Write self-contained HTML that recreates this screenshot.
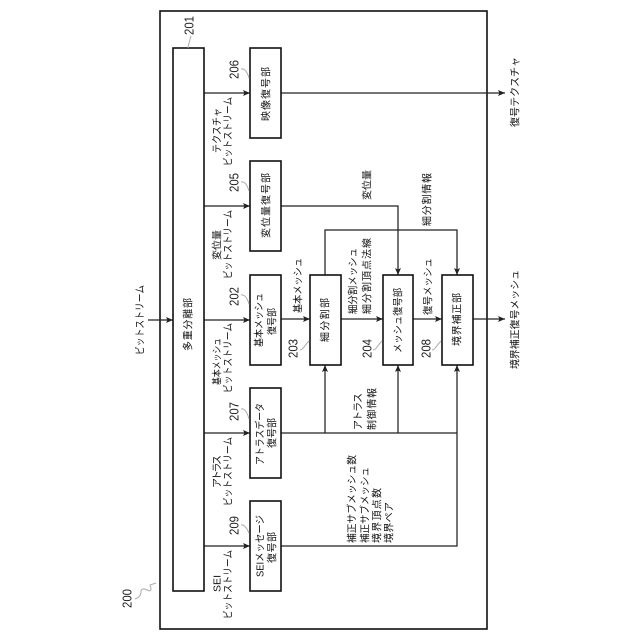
<!DOCTYPE html>
<html><head><meta charset="utf-8"><style>
html,body{margin:0;padding:0;background:#fff}
svg{display:block}
text{font-family:"Liberation Sans","Noto Sans CJK JP",sans-serif;font-size:10px;fill:#111;dominant-baseline:central}
.n{font-size:13px;fill:#222}
.b{fill:#fff;stroke:#111;stroke-width:1.6}
.l{fill:none;stroke:#222;stroke-width:1.25}
.s{fill:none;stroke:#aaa;stroke-width:1}
</style></head><body>
<svg xmlns="http://www.w3.org/2000/svg" width="640" height="640" viewBox="0 0 640 640">
<defs><marker id="a" markerUnits="userSpaceOnUse" markerWidth="8" markerHeight="8" refX="7" refY="4" orient="auto"><path d="M0 1 L7 4 L0 7 L1.5 4Z" fill="#222"/></marker></defs>
<rect x="160" y="11" width="327" height="618" fill="#fff" stroke="#111" stroke-width="1.6"/>
<g class="l">
<path class="l" d="M148 320H173" marker-end="url(#a)"/>
<path class="l" d="M204 93H250" marker-end="url(#a)"/>
<path class="l" d="M204 206H250" marker-end="url(#a)"/>
<path class="l" d="M204 320H250" marker-end="url(#a)"/>
<path class="l" d="M204 433H250" marker-end="url(#a)"/>
<path class="l" d="M204 546H250" marker-end="url(#a)"/>
<path class="l" d="M281 93H505" marker-end="url(#a)"/>
<path class="l" d="M281 206H398V275" marker-end="url(#a)"/>
<path class="l" d="M281 319H310" marker-end="url(#a)"/>
<path class="l" d="M341 319H383" marker-end="url(#a)"/>
<path class="l" d="M413 319H442" marker-end="url(#a)"/>
<path class="l" d="M473 319H505" marker-end="url(#a)"/>
<path class="l" d="M325 275V230H457V275" marker-end="url(#a)"/>
<path class="l" d="M281 433H457"/>
<path class="l" d="M325 433V365" marker-end="url(#a)"/>
<path class="l" d="M398 433V365" marker-end="url(#a)"/>
<path class="l" d="M281 546H457V365" marker-end="url(#a)"/>
</g>
<rect class="b" x="173" y="48" width="31" height="543"/>
<rect class="b" x="250" y="48" width="31" height="90"/>
<rect class="b" x="250" y="161" width="31" height="90"/>
<rect class="b" x="250" y="275" width="31" height="90"/>
<rect class="b" x="250" y="388" width="31" height="90"/>
<rect class="b" x="250" y="501" width="31" height="90"/>
<rect class="b" x="310" y="275" width="31" height="90"/>
<rect class="b" x="383" y="275" width="30" height="90"/>
<rect class="b" x="442" y="275" width="31" height="90"/>
<g class="s">
<path class="s" d="M188 48Q189 42 191 36"/>
<path class="s" d="M249 78Q246 68 241 69"/>
<path class="s" d="M249 191Q246 181 241 182"/>
<path class="s" d="M249 304Q246 294 241 295"/>
<path class="s" d="M249 419Q246 408 241 409"/>
<path class="s" d="M249 533Q245 524 241 525"/>
<path class="s" d="M309 341Q306 344 304 347T300 350"/>
<path class="s" d="M382 341Q379 344 377 347T373 350"/>
<path class="s" d="M441 341Q438 344 436 347T432 350"/>
<path class="s" d="M135 599Q141 597 141 592T147 590T150 585L156 583" stroke-width="1.2"/>
</g>
<text class="n" transform="translate(189,35) rotate(-90)" textLength="19" lengthAdjust="spacingAndGlyphs">201</text>
<text class="n" transform="translate(234,79) rotate(-90)" textLength="19" lengthAdjust="spacingAndGlyphs">206</text>
<text class="n" transform="translate(234,192) rotate(-90)" textLength="19" lengthAdjust="spacingAndGlyphs">205</text>
<text class="n" transform="translate(234,306) rotate(-90)" textLength="19" lengthAdjust="spacingAndGlyphs">202</text>
<text class="n" transform="translate(234,421) rotate(-90)" textLength="19" lengthAdjust="spacingAndGlyphs">207</text>
<text class="n" transform="translate(234,535) rotate(-90)" textLength="19" lengthAdjust="spacingAndGlyphs">209</text>
<text class="n" transform="translate(293,358) rotate(-90)" textLength="19" lengthAdjust="spacingAndGlyphs">203</text>
<text class="n" transform="translate(367,358) rotate(-90)" textLength="19" lengthAdjust="spacingAndGlyphs">204</text>
<text class="n" transform="translate(426,358) rotate(-90)" textLength="19" lengthAdjust="spacingAndGlyphs">208</text>
<text class="n" transform="translate(127,608) rotate(-90)" textLength="19" lengthAdjust="spacingAndGlyphs">200</text>
<g transform="translate(1,0)">
<text transform="translate(140,355) rotate(-90)" textLength="70" lengthAdjust="spacingAndGlyphs">ビットストリーム</text>
<text transform="translate(188,351) rotate(-90)" textLength="53">多重分離部</text>
<text transform="translate(266,121) rotate(-90)" textLength="54">映像復号部</text>
<text transform="translate(266,238) rotate(-90)" textLength="65">変位量復号部</text>
<text transform="translate(259,347) rotate(-90)" textLength="54" lengthAdjust="spacingAndGlyphs">基本メッシュ</text>
<text transform="translate(272,335) rotate(-90)" textLength="27" lengthAdjust="spacingAndGlyphs">復号部</text>
<text transform="translate(260,465) rotate(-90)" textLength="62" lengthAdjust="spacingAndGlyphs">アトラスデータ</text>
<text transform="translate(272,448) rotate(-90)" textLength="30">復号部</text>
<text transform="translate(260,577) rotate(-90)" textLength="62" lengthAdjust="spacingAndGlyphs">SEIメッセージ</text>
<text transform="translate(272,563) rotate(-90)" textLength="31">復号部</text>
<text transform="translate(217,153) rotate(-90)" textLength="45" lengthAdjust="spacingAndGlyphs">テクスチャ</text>
<text transform="translate(228,166) rotate(-90)" textLength="69" lengthAdjust="spacingAndGlyphs">ビットストリーム</text>
<text transform="translate(217,260) rotate(-90)" textLength="30">変位量</text>
<text transform="translate(228,279) rotate(-90)" textLength="69" lengthAdjust="spacingAndGlyphs">ビットストリーム</text>
<text transform="translate(217,385) rotate(-90)" textLength="47" lengthAdjust="spacingAndGlyphs">基本メッシュ</text>
<text transform="translate(228,393) rotate(-90)" textLength="70" lengthAdjust="spacingAndGlyphs">ビットストリーム</text>
<text transform="translate(217,488) rotate(-90)" textLength="33">アトラス</text>
<text transform="translate(228,506) rotate(-90)" textLength="69" lengthAdjust="spacingAndGlyphs">ビットストリーム</text>
<text transform="translate(217,592) rotate(-90)" textLength="17" lengthAdjust="spacingAndGlyphs">SEI</text>
<text transform="translate(228,619) rotate(-90)" textLength="69" lengthAdjust="spacingAndGlyphs">ビットストリーム</text>
<text transform="translate(298,313) rotate(-90)" textLength="55" lengthAdjust="spacingAndGlyphs">基本メッシュ</text>
<text transform="translate(325,342) rotate(-90)" textLength="44">細分割部</text>
<text transform="translate(398,353) rotate(-90)" textLength="65" lengthAdjust="spacingAndGlyphs">メッシュ復号部</text>
<text transform="translate(457,346) rotate(-90)" textLength="53">境界補正部</text>
<text transform="translate(353,314) rotate(-90)" textLength="66" lengthAdjust="spacingAndGlyphs">細分割メッシュ</text>
<text transform="translate(367,314) rotate(-90)" textLength="76">細分割頂点法線</text>
<text transform="translate(428,315) rotate(-90)" textLength="57" lengthAdjust="spacingAndGlyphs">復号メッシュ</text>
<text transform="translate(367,200) rotate(-90)" textLength="30">変位量</text>
<text transform="translate(427,226) rotate(-90)" textLength="53">細分割情報</text>
<text transform="translate(358,430) rotate(-90)" textLength="37">アトラス</text>
<text transform="translate(372,430) rotate(-90)" textLength="42">制御情報</text>
<text transform="translate(352,543) rotate(-90)" textLength="88" lengthAdjust="spacingAndGlyphs">補正サブメッシュ数</text>
<text transform="translate(365,543) rotate(-90)" textLength="76" lengthAdjust="spacingAndGlyphs">補正サブメッシュ</text>
<text transform="translate(377,543) rotate(-90)" textLength="55">境界頂点数</text>
<text transform="translate(389,543) rotate(-90)" textLength="41">境界ペア</text>
<text transform="translate(515,127) rotate(-90)" textLength="70">復号テクスチャ</text>
<text transform="translate(515,369) rotate(-90)" textLength="99" lengthAdjust="spacingAndGlyphs">境界補正復号メッシュ</text>
</g>
</svg>
</body></html>
